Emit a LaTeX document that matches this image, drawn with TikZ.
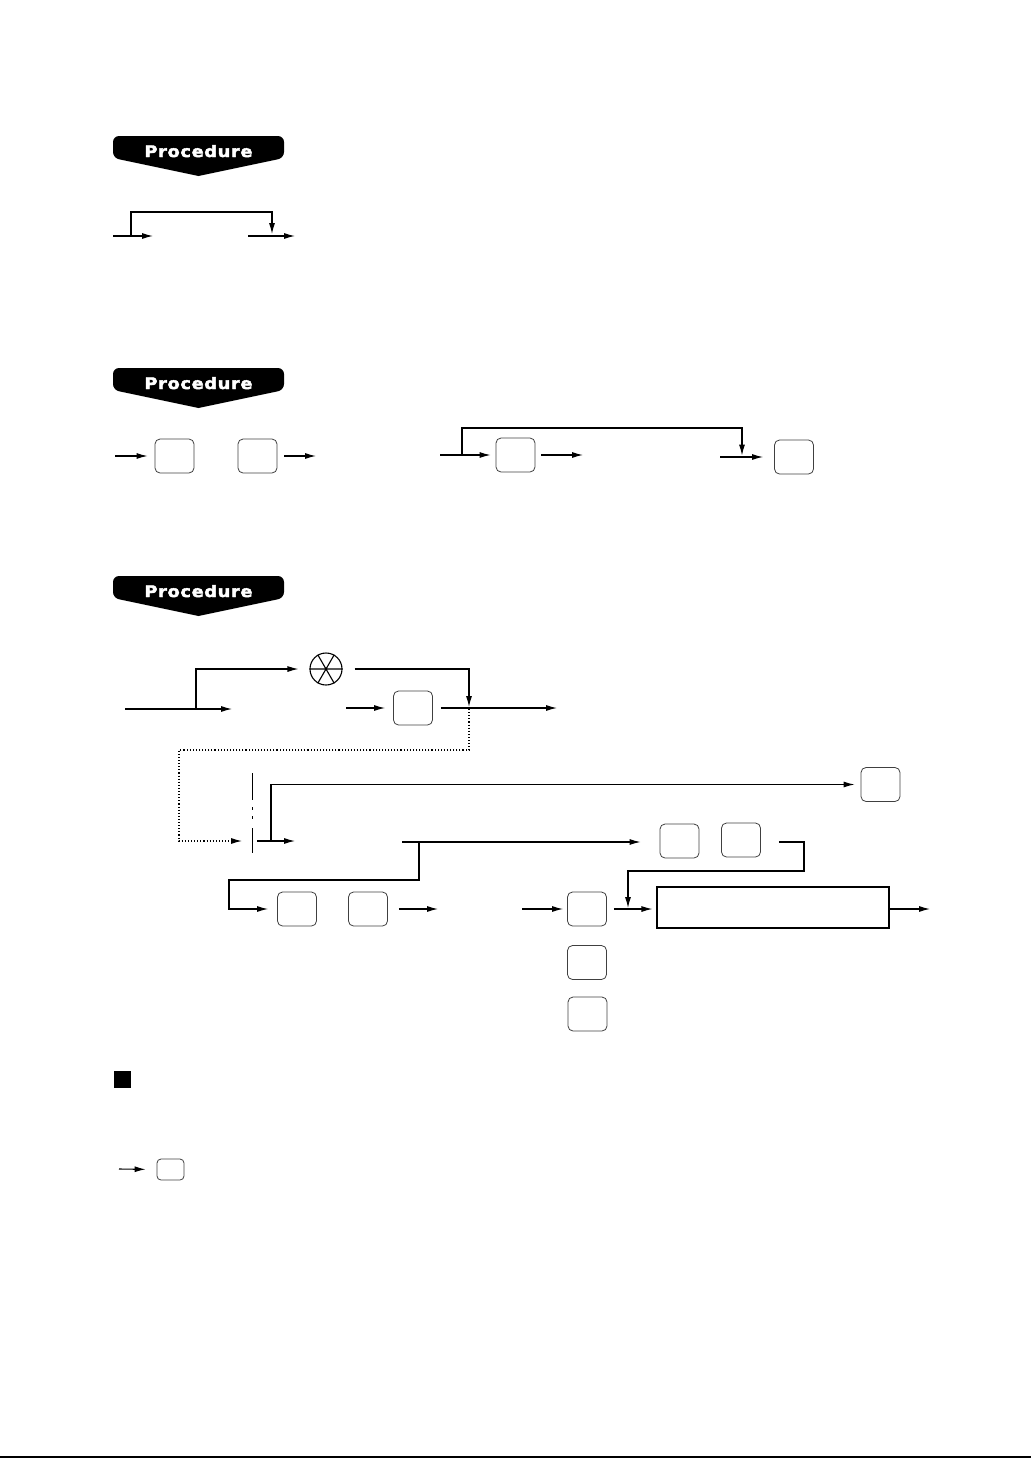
\documentclass[tikz,border=0pt]{standalone}
\usepackage{fontspec}
\newfontfamily\bannerfont{DejaVu Sans}[FakeBold=2.5,LetterSpace=4]
\usetikzlibrary{arrows.meta}
\begin{document}
\begin{tikzpicture}[x=1pt,y=-1pt,
  conn/.style={line width=1.1pt},
  arr/.style={conn,-{Latex[length=11pt,width=6pt]}},
  dotline/.style={line width=1.1pt,dotted},
  key/.style={draw=black!75,line width=0.8pt,rounded corners=5pt,minimum width=39pt,minimum height=34pt,inner sep=0pt},
  smallkey/.style={draw=black!75,line width=0.8pt,rounded corners=4pt,minimum width=27pt,minimum height=21pt,inner sep=0pt},
  bigbox/.style={draw,line width=1.1pt,minimum width=232pt,minimum height=41pt,inner sep=0pt},
  banner/.pic={
    \fill[black] (0,40) [rounded corners=6pt] -- (-85.5,22) -- (-85.5,0) -- (85.5,0) -- (85.5,22) [sharp corners] -- cycle;
    \node[text=white,anchor=base,inner sep=0pt] (-t) at (0,21) {\resizebox{108pt}{12pt}{\bannerfont\bfseries Procedure}};
  }
]
\useasboundingbox (0,0) rectangle (1033,1459);

% ---------- section 1 ----------
\pic (b1) at (198.5,136) {banner};
\coordinate (a1) at (113,236); \coordinate (a1t) at (153,236);
\coordinate (a1b) at (131,236); \coordinate (a1d) at (272,234);
\coordinate (a2) at (248,236); \coordinate (a2t) at (295,236);
\draw[arr] (a1) -- (a1t);
\draw[arr] (a1b) -- (131,212) -| (a1d);
\draw[arr] (a2) -- (a2t);

% ---------- section 2 ----------
\pic (b2) at (198.5,368) {banner};
\node[key] (k1) at (174.5,456) {};
\node[key] (k2) at (257.5,456) {};
\coordinate (c1) at (115,456);
\coordinate (c2) at (316,456);
\draw[arr,shorten >=7pt] (c1) -- (k1.west);
\draw[arr,shorten <=7pt] (k2.east) -- (c2);

\node[key] (k3) at (515.5,455) {};
\node[key] (k4) at (794,457) {};
\coordinate (c3) at (440,455);
\coordinate (c3b) at (462,455);
\coordinate (c4) at (583,455);
\coordinate (c5) at (720,457);
\coordinate (c5d) at (742,455.5);
\draw[arr,shorten >=5pt] (c3) -- (k3.west);
\draw[arr] (c3b) -- (462,428) -| (c5d);
\draw[arr,shorten <=6pt] (k3.east) -- (c4);
\draw[arr,shorten >=11pt] (c5) -- (k4.west);

% ---------- section 3 ----------
\pic (b3) at (198.5,576) {banner};
\node[draw,circle,line width=1.1pt,minimum size=32pt,inner sep=0pt] (ox) at (326,669) {};
\draw[line width=1.1pt] (ox.west) -- (ox.east) (ox.60) -- (ox.240) (ox.120) -- (ox.300);

\coordinate (d1) at (125,709); \coordinate (d1t) at (232,709);
\coordinate (d1b) at (196,709);
\draw[arr] (d1) -- (d1t);
\draw[arr,shorten >=11pt] (d1b) |- (ox.west);
\coordinate (d2d) at (469,707);
\draw[arr,shorten <=12pt] (ox.east) -| (d2d);

\node[key] (k5) at (413,708) {};
\coordinate (d3) at (346,708);
\coordinate (d4) at (557,708);
\draw[arr,shorten >=8pt] (d3) -- (k5.west);
\draw[arr,shorten <=8pt] (k5.east) -- (d4);

% dotted loop
\coordinate (e0) at (469,709);
\coordinate (e1) at (242,841);
\draw[dotline,-{Latex[length=11pt,width=6pt]}] (e0) -- (469,750) -- (179,750) |- (e1);

% break bar
\draw[line width=1pt] (252,773) -- (252,800) (252,807) -- (252,810) (252,816) -- (252,819) (252,828) -- (252,853);

\node[key] (k6) at (880.5,784.5) {};
\coordinate (f1) at (257,841); \coordinate (f1t) at (295,841);
\coordinate (f1b) at (271,841);
\draw[arr] (f1) -- (f1t);
\draw[arr,shorten >=6pt] (f1b) |- (k6.west);

\node[key] (k9) at (679.5,841) {};
\node[key] (k10) at (741,840) {};
\coordinate (g1) at (402,842);
\coordinate (g1b) at (419,842);
\draw[arr,shorten >=19pt] (g1) -- (k9.west |- g1);
\node[key] (k7) at (297,909) {};
\node[key] (k8) at (368,909) {};
\draw[arr,shorten >=9pt] (g1b) -- (419,880) -- (229,880) |- (k7.west);
\coordinate (g2t) at (438,909);
\draw[arr,shorten <=11pt] (k8.east) -- (g2t);

\node[key] (k11) at (587,909) {};
\node[bigbox] (big) at (773,907.5) {};
\coordinate (h1) at (522,909);
\draw[arr,shorten >=4pt] (h1) -- (k11.west);
\draw[arr,shorten <=7pt,shorten >=4pt] (k11.east) -- (big.west |- k11.east);
\coordinate (h3) at (930,909);
\draw[arr] (big.east |- h3) -- (h3);
\coordinate (h2d) at (628,908);
\draw[arr,shorten <=18pt] (k10.east |- g1) -- (804,842) -- (804,871) -| (h2d);

\node[key] (k12) at (587,962.5) {};
\node[key] (k13) at (587.5,1014) {};

% ---------- bottom part ----------
\fill[black] (114,1071) rectangle (131,1088);
\node[smallkey] (k14) at (170.5,1169.5) {};
\coordinate (m1) at (119,1169);
\draw[arr,shorten >=11pt] (m1) -- (k14.west);

\draw[line width=1.8pt] (0,1457) -- (1031,1457);
\end{tikzpicture}
\end{document}
